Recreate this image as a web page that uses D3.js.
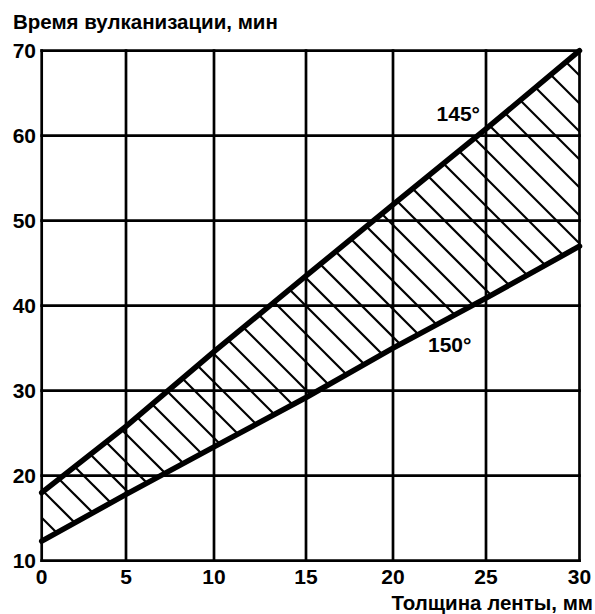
<!DOCTYPE html>
<html>
<head>
<meta charset="utf-8">
<script src="https://cdn.jsdelivr.net/npm/d3@7"></script>
<style>
  body { margin: 0; background: #fff; }
  text { font-family: "Liberation Sans", Arial, sans-serif; font-weight: bold; fill: #000; }
</style>
</head>
<body>
<svg id="chart" width="595" height="614"></svg>
<script>
// thickness values (mm) at the vertical grid lines
const thickness = [0, 5, 10, 15, 20, 25, 30];
// vulcanisation time (min)
const time145 = [18, 25.8, 34.6, 43.5, 51.9, 60.8, 70];
const time150 = [12.3, 17.8, 23.4, 29.2, 35.0, 40.9, 47.0];
const xTicks = [0, 5, 10, 15, 20, 25, 30];
const yTicks = [10, 20, 30, 40, 50, 60, 70];

let svg = d3.select("#chart");

// the scanned grid is not evenly spaced, so x uses a piecewise scale
let x = d3.scaleLinear()
    .domain(xTicks)
    .range([41.7, 126, 214, 306, 393, 486, 579.5]);
let y = d3.scaleLinear()
    .domain([10, 70])
    .range([560.7, 50.7]);

let upper = thickness.map((t, i) => ({t: t, v: time145[i]}));
let lower = thickness.map((t, i) => ({t: t, v: time150[i]}));

// clip for the hatched band between the two lines
let band = upper.map(d => [x(d.t), y(d.v)])
    .concat(lower.slice().reverse().map(d => [x(d.t), y(d.v)]));

svg.append("clipPath").attr("id", "band")
    .append("path")
    .attr("d", "M" + band.join("L") + "Z");

// grid
let grid = svg.append("g").attr("stroke", "#000").attr("stroke-width", 2.7).attr("stroke-linecap", "square");
grid.selectAll("line.v").data(xTicks).enter().append("line")
    .attr("class", "v")
    .attr("x1", d => x(d)).attr("x2", d => x(d))
    .attr("y1", y(10)).attr("y2", y(70));
grid.selectAll("line.h").data(yTicks).enter().append("line")
    .attr("class", "h")
    .attr("x1", x(0)).attr("x2", x(30))
    .attr("y1", d => y(d)).attr("y2", d => y(d));

// hatching: 45 degree strokes, every 28px along x
let hatch = svg.append("g").attr("clip-path", "url(#band)")
    .attr("stroke", "#000").attr("stroke-width", 2.2);
let offsets = d3.range(-560, 560, 28);
hatch.selectAll("line").data(offsets).enter().append("line")
    .attr("x1", c => c).attr("y1", 0)
    .attr("x2", c => c + 614).attr("y2", 614);

// boundary lines
let line = d3.line().x(d => x(d.t)).y(d => y(d.v));
svg.append("path").datum(upper)
    .attr("d", line).attr("fill", "none")
    .attr("stroke", "#000").attr("stroke-width", 5.5).attr("stroke-linecap", "round");
svg.append("path").datum(lower)
    .attr("d", line).attr("fill", "none")
    .attr("stroke", "#000").attr("stroke-width", 5.5).attr("stroke-linecap", "round");

// tick labels
svg.selectAll("text.yt").data(yTicks).enter().append("text")
    .attr("class", "yt")
    .attr("x", 36).attr("y", d => y(d)).attr("dy", "0.36em")
    .attr("text-anchor", "end").style("font-size", "21px")
    .text(d => d);
svg.selectAll("text.xt").data(xTicks).enter().append("text")
    .attr("class", "xt")
    .attr("x", d => x(d)).attr("y", 584)
    .attr("text-anchor", "middle").style("font-size", "21px")
    .text(d => d);

// axis titles
svg.append("text").attr("x", 13).attr("y", 29)
    .style("font-size", "20.5px").text("Время вулканизации, мин");
svg.append("text").attr("x", 593).attr("y", 610)
    .attr("text-anchor", "end").style("font-size", "20.5px").text("Толщина ленты, мм");

// temperature labels
svg.append("text").attr("x", x(25) - 6).attr("y", y(61.7))
    .attr("text-anchor", "end").style("font-size", "21px").text("145°");
svg.append("text").attr("x", x(20) + 35).attr("y", y(34.6))
    .style("font-size", "21px").text("150°");
</script>
</body>
</html>
